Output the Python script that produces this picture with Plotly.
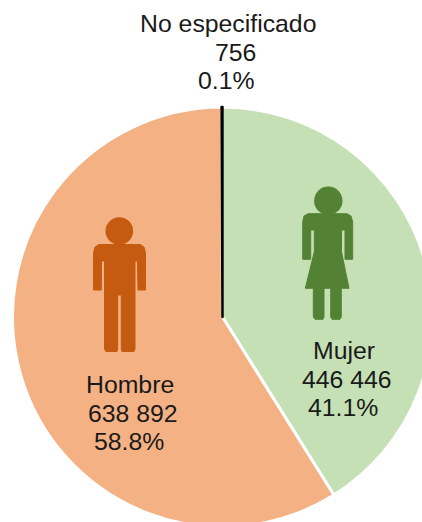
import plotly.graph_objects as go

categories = ["Mujer", "Hombre", "No especificado"]
values = [446446, 638892, 756]
value_labels = ["446 446", "638 892", "756"]
percent_labels = ["41.1%", "58.8%", "0.1%"]
slice_colors = ["#C5E0B4", "#F4B183", "#000000"]
line_colors = ["#FFFFFF", "#FFFFFF", "#000000"]
line_widths = [3, 3, 2.5]

W, H = 440, 540  # larger than the window: the reference pie is cropped
TEXT = "#1A1A1A"
FONT = "Liberation Sans, Arial, sans-serif"


def px(x):
    return x / W


def py(y):
    return 1 - y / H


def path(points):
    return "M" + " L".join(f"{px(x):.5f},{py(y):.5f}" for x, y in points) + " Z"


def rounded_figure(points, fill):
    return dict(type="path", xref="paper", yref="paper", path=path(points),
                fillcolor=fill, line=dict(color=fill, width=1, ), layer="above")


def head(cx, cy, r, fill):
    return dict(type="circle", xref="paper", yref="paper",
                x0=px(cx - r), x1=px(cx + r), y0=py(cy + r), y1=py(cy - r),
                fillcolor=fill, line=dict(width=0), layer="above")


man = [(99, 244.5), (140, 244.5), (144, 247), (145.5, 253), (145.5, 290), (138, 290), (137.5, 261),
       (135, 261), (135, 349), (134, 351.5), (122, 351.5), (121.3, 349), (121.3, 295), (117.7, 295),
       (117.7, 349), (117, 351.5), (106, 351.5), (104.5, 349), (104.5, 261), (101.5, 261), (101.3, 290),
       (93.5, 290), (93.5, 253), (95, 247)]
woman = [(308, 213.7), (347, 213.7), (351, 216), (352.7, 222), (352.7, 259.3), (345, 259.3), (345, 230),
         (341.5, 230), (341.5, 251.7), (349, 288.3), (341.3, 288.3), (341.3, 317), (340, 319.3), (332, 319.3),
         (330.7, 317), (330.7, 288.3), (324, 288.3), (324, 317), (323, 319.3), (315, 319.3), (313.3, 317),
         (313.3, 288.3), (305.3, 288.3), (314.3, 251.7), (314.3, 230), (310.7, 230), (310.7, 259.3),
         (302.7, 259.3), (302.7, 222), (304, 216)]

fig = go.Figure(go.Pie(
    labels=categories, values=values, sort=False, direction="clockwise", rotation=0,
    marker=dict(colors=slice_colors, line=dict(color=line_colors, width=line_widths)),
    textinfo="none", hoverinfo="skip", showlegend=False,
    domain=dict(x=[12.5 / W, 432.5 / W], y=[1 - 527 / H, 1 - 107 / H]),
))

label_centres = {
    0: [(344, 350), (347, 379), (343, 407)],
    1: [(130, 385), (133, 413), (129, 441)],
    2: [(228, 23), (235, 52), (227, 80)],
}
annotations = []
for i, centres in label_centres.items():
    for text, (x, y) in zip([categories[i], value_labels[i], percent_labels[i]], centres):
        annotations.append(dict(text=text, x=px(x), y=py(y), xref="paper", yref="paper",
                                xanchor="center", yanchor="middle", showarrow=False,
                                font=dict(family=FONT, size=24.8, color=TEXT)))

fig.update_layout(
    width=W, height=H, margin=dict(l=0, r=0, t=0, b=0),
    paper_bgcolor="white", showlegend=False, annotations=annotations,
    shapes=[rounded_figure(man, "#C55A11"), head(119.3, 231, 13.8, "#C55A11"),
            rounded_figure(woman, "#548235"), head(328.3, 200.7, 14.2, "#548235")],
)

fig.write_html("out.html", config={"displayModeBar": False},
               post_script="document.documentElement.style.overflow='hidden';"
                           "document.body.style.overflow='hidden';document.body.style.margin='0';")
